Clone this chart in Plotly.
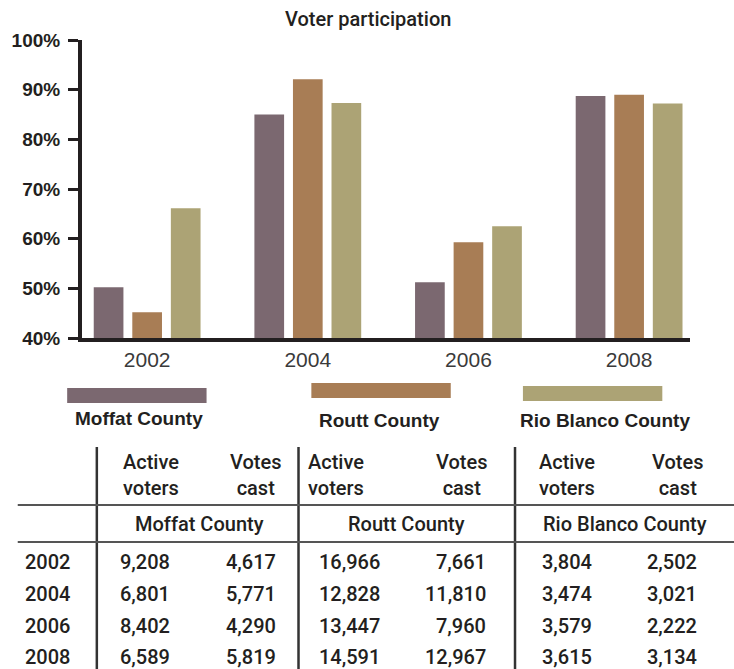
import plotly.graph_objects as go

# ---------------- data ----------------
years = ["2002", "2004", "2006", "2008"]
counties = ["Moffat County", "Routt County", "Rio Blanco County"]
moffat_pct = [50.2, 85.0, 51.2, 88.7]
routt_pct = [45.2, 92.1, 59.3, 89.0]
rio_pct = [66.1, 87.3, 62.5, 87.2]

moffat_active = [9208, 6801, 8402, 6589]
moffat_cast = [4617, 5771, 4290, 5819]
routt_active = [16966, 12828, 13447, 14591]
routt_cast = [7661, 11810, 7960, 12967]
rio_active = [3804, 3474, 3579, 3615]
rio_cast = [2502, 3021, 2222, 3134]

y_ticks = [40, 50, 60, 70, 80, 90, 100]
y_tick_labels = ["40%", "50%", "60%", "70%", "80%", "90%", "100%"]

# ---------------- style ----------------
colors = ["#7b6870", "#a87d55", "#aca375"]
W, H = 734, 669
# plot area in reference pixels: left 75, right 690, top 40, bottom 338
ML, MR, MT, MB = 75, 734 - 690, 40, 669 - 338
PW, PH = W - ML - MR, H - MT - MB
TXT = "#231f20"
TABLE_FONT = "Roboto, 'Liberation Sans', sans-serif"
BOLD_FONT = "'Liberation Sans', Arial, sans-serif"


def px2x(px):
    return (px - ML) / PW


def px2y(py):
    return (H - MB - py) / PH


fig = go.Figure()
for name, vals, col in zip(counties, [moffat_pct, routt_pct, rio_pct], colors):
    fig.add_trace(go.Bar(x=years, y=vals, name=name, marker=dict(color=col, line=dict(width=0)),
                         showlegend=False, hoverinfo="skip"))

shapes = []
annotations = []

# title
annotations.append(dict(text="Voter participation", x=px2x(364), y=px2y(19), xref="paper", yref="paper",
                        showarrow=False, xanchor="center", yanchor="middle",
                        font=dict(family=TABLE_FONT, size=20, color=TXT, weight=500)))

# custom legend
legend_boxes = [(60, 201, 388, 403), (307, 448, 383, 398), (521, 662, 386, 401)]
legend_text = [(133, 418), (376, 420), (604, 420)]
for name, col, (x0, x1, y0, y1), (tx, ty) in zip(counties, colors, legend_boxes, legend_text):
    shapes.append(dict(type="rect", xref="paper", yref="paper", x0=px2x(x0), x1=px2x(x1),
                       y0=px2y(y1), y1=px2y(y0), fillcolor=col, line=dict(width=0)))
    annotations.append(dict(text=name, x=px2x(tx), y=px2y(ty), xref="paper", yref="paper",
                            showarrow=False, xanchor="center", yanchor="middle",
                            font=dict(family=BOLD_FONT, size=19, color=TXT, weight="bold")))

# table lines
for vx in [90, 294, 513]:
    shapes.append(dict(type="line", xref="paper", yref="paper", x0=px2x(vx), x1=px2x(vx),
                       y0=px2y(447), y1=px2y(680), line=dict(color="#333333", width=2.5)))
for hy in [505, 542]:
    shapes.append(dict(type="line", xref="paper", yref="paper", x0=px2x(10), x1=px2x(740),
                       y0=px2y(hy), y1=px2y(hy), line=dict(color="#555555", width=2)))

# table header
active_hdr_x = [145, 332, 566]
votes_hdr_x = [250, 459, 677]
sub_x = [194, 403, 624]
cell_font = dict(family=TABLE_FONT, size=20, color=TXT, weight=500)
for i in range(3):
    annotations.append(dict(text="Active<br>voters", x=px2x(active_hdr_x[i]), y=px2y(475),
                            xref="paper", yref="paper", showarrow=False, xanchor="center",
                            yanchor="middle", align="center", font=cell_font))
    annotations.append(dict(text="Votes<br>cast", x=px2x(votes_hdr_x[i]), y=px2y(475),
                            xref="paper", yref="paper", showarrow=False, xanchor="center",
                            yanchor="middle", align="center", font=cell_font))
    annotations.append(dict(text=counties[i], x=px2x(sub_x[i]), y=px2y(524),
                            xref="paper", yref="paper", showarrow=False, xanchor="center",
                            yanchor="middle", font=cell_font))

# table body
row_y = [562, 594, 626, 657]
col_right = [166, 273, 378, 486, 593, 699]
columns = [moffat_active, moffat_cast, routt_active, routt_cast, rio_active, rio_cast]
for r, yr in enumerate(years):
    annotations.append(dict(text=yr, x=px2x(15), y=px2y(row_y[r]), xref="paper", yref="paper",
                            showarrow=False, xanchor="left", yanchor="middle", font=cell_font))
    for c, colvals in enumerate(columns):
        annotations.append(dict(text=f"{colvals[r]:,}", x=px2x(col_right[c]), y=px2y(row_y[r]),
                                xref="paper", yref="paper", showarrow=False, xanchor="right",
                                yanchor="middle", font=cell_font))

fig.update_layout(
    width=W, height=H,
    margin=dict(l=ML, r=MR, t=MT, b=MB, pad=0),
    paper_bgcolor="white", plot_bgcolor="white",
    barmode="group", bargap=0.28, bargroupgap=0.23,
    shapes=shapes, annotations=annotations,
    xaxis=dict(range=[-0.4055, 3.379], showline=True, linewidth=4, linecolor=TXT, ticks="",
               showgrid=False, zeroline=False,
               tickfont=dict(family=BOLD_FONT, size=21, color="#3a3a3a")),
    yaxis=dict(range=[40, 100], tickvals=y_ticks, ticktext=y_tick_labels, showline=True,
               linewidth=4, linecolor=TXT, ticks="outside", ticklen=10, tickwidth=3, tickcolor=TXT,
               showgrid=False, zeroline=False, ticklabelstandoff=4,
               tickfont=dict(family=BOLD_FONT, size=19, color=TXT, weight="bold")),
)

fig.write_html("out.html", config={"displayModeBar": False, "staticPlot": True},
               post_script="document.body.style.margin='0';document.body.style.overflow='hidden';")
